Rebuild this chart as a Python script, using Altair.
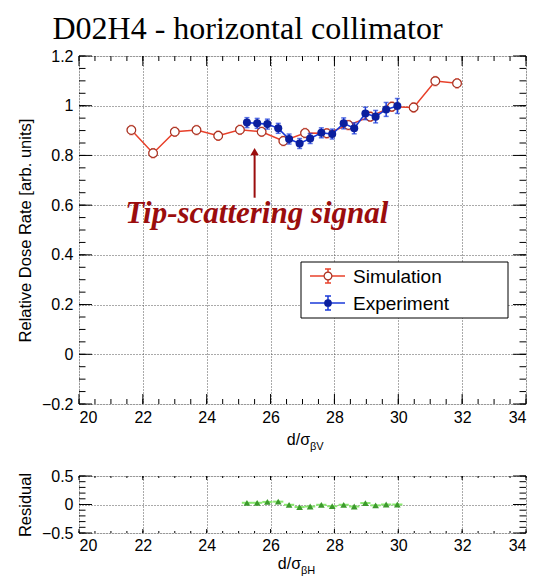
import altair as alt
import pandas as pd

# ---------------- data ----------------
sim_x = [21.64, 22.32, 23.00, 23.68, 24.36, 25.04, 25.72, 26.40, 27.08, 27.76, 28.44, 29.12, 29.80, 30.48, 31.16, 31.84]
sim_y = [0.902, 0.809, 0.895, 0.902, 0.879, 0.903, 0.895, 0.858, 0.890, 0.889, 0.922, 0.956, 0.996, 0.993, 1.099, 1.090]
sim_xerr = [0.12, 0.12, 0.12, 0.12, 0.12, 0.12, 0.12, 0.12, 0.12, 0.12, 0.12, 0.12, 0.12, 0.12, 0.12, 0.12]
sim_yerr = [0.018, 0.018, 0.018, 0.018, 0.018, 0.018, 0.018, 0.018, 0.018, 0.018, 0.018, 0.018, 0.018, 0.018, 0.018, 0.018]

exp_x = [25.26, 25.58, 25.90, 26.24, 26.58, 26.91, 27.24, 27.59, 27.93, 28.29, 28.62, 28.97, 29.29, 29.62, 29.97]
exp_y = [0.932, 0.929, 0.926, 0.909, 0.866, 0.848, 0.868, 0.891, 0.886, 0.929, 0.909, 0.969, 0.956, 0.985, 0.999]
exp_xerr = [0.05, 0.05, 0.05, 0.05, 0.05, 0.05, 0.05, 0.05, 0.05, 0.05, 0.05, 0.05, 0.05, 0.05, 0.05]
exp_yerr = [0.020, 0.020, 0.020, 0.020, 0.020, 0.020, 0.020, 0.020, 0.020, 0.022, 0.022, 0.025, 0.025, 0.028, 0.030]

res_x = exp_x
res_y = [0.030, 0.030, 0.045, 0.050, -0.005, -0.045, -0.035, -0.005, -0.030, -0.005, -0.035, 0.025, -0.015, 0.000, 0.000]
res_xerr = [0.16, 0.16, 0.16, 0.16, 0.16, 0.16, 0.16, 0.16, 0.16, 0.16, 0.16, 0.16, 0.16, 0.16, 0.16]
res_yerr = [0.02, 0.02, 0.02, 0.02, 0.02, 0.02, 0.02, 0.02, 0.02, 0.02, 0.02, 0.02, 0.02, 0.02, 0.02]

x_major = [20, 22, 24, 26, 28, 30, 32, 34]
x_minor = [20 + 0.5 * i for i in range(29)]
y_major = [-0.2, 0.0, 0.2, 0.4, 0.6, 0.8, 1.0, 1.2]
y_minor = [round(-0.2 + 0.05 * i, 3) for i in range(29)]
r_major = [-0.5, 0.0, 0.5]
r_minor = [round(-0.5 + 0.1 * i, 2) for i in range(11)]

title_text = "D02H4 - horizontal collimator"
annot_text = "Tip-scattering signal"
annot_x, annot_y = 25.57, 0.530
arrow_x, arrow_y0, arrow_y1 = 25.50, 0.630, 0.815

# ---------------- styling ----------------
W, H, H2 = 447, 348, 57
SANS = "Liberation Sans"
SERIF = "Liberation Serif"
RED = "#e8402a"
RED_DARK = "#a83222"
BLUE = "#1a3ad8"
BLUE_DARK = "#0b1f9e"
GREEN = "#3c9a2c"
GREEN_LIGHT = "#8ae870"
ANNOT = "#9b0d0d"

xs = alt.Scale(domain=[20, 34], nice=False, zero=False)
ys = alt.Scale(domain=[-0.2, 1.2], nice=False, zero=False)
rs = alt.Scale(domain=[-0.5, 0.5], nice=False, zero=False)


def make_axis(values, fmt, title, orient, label_pad, title_pad=8):
    kw = dict(values=values, format=fmt, orient=orient, grid=True, gridDash=[1, 2], gridColor="#555",
              gridWidth=1, ticks=False, domain=False, labelFont=SANS, labelFontSize=16,
              labelColor="black", labelPadding=label_pad)
    if title is None:
        kw["title"] = None
    else:
        kw.update(title=title, titleFont=SANS, titleFontSize=16.5, titleFontWeight="normal",
                  titleColor="black", titlePadding=title_pad)
    return alt.Axis(**kw)


AX_X_TOP = make_axis(x_major, "d", None, "bottom", 5)
AX_Y_TOP = make_axis(y_major, "~g", "Relative Dose Rate [arb. units]", "left", 6)
AX_X_BOT = make_axis(x_major, "d", None, "bottom", 4)
AX_Y_BOT = make_axis(r_major, "~g", "Residual", "left", 6)


def mk_enc(xaxis, yaxis, yscale):
    def X(f):
        return alt.X(f, type="quantitative", scale=xs, axis=xaxis)

    def Y(f):
        return alt.Y(f, type="quantitative", scale=yscale, axis=yaxis)
    return X, Y


def with_err(xv, yv, xe, ye):
    d = pd.DataFrame({"x": xv, "y": yv, "xe": xe, "ye": ye})
    d["xlo"] = d.x - d.xe
    d["xhi"] = d.x + d.xe
    d["ylo"] = d.y - d.ye
    d["yhi"] = d.y + d.ye
    return d


sim = with_err(sim_x, sim_y, sim_xerr, sim_yerr)
exp = with_err(exp_x, exp_y, exp_xerr, exp_yerr)
res = with_err(res_x, res_y, res_xerr, res_yerr)
one = pd.DataFrame({"a": [0]})


def ticks_layers(X, Y, h, xlen_major, xlen_minor, ylen_major, ylen_minor, ymajor, yminor):
    out = []
    for vals, L in ((x_major, xlen_major), (x_minor, xlen_minor)):
        d = pd.DataFrame({"x": vals})
        out.append(alt.Chart(d).mark_rule(color="black", strokeWidth=1).encode(
            x=X("x"), y=alt.value(h), y2=alt.value(h - L)))
        out.append(alt.Chart(d).mark_rule(color="black", strokeWidth=1).encode(
            x=X("x"), y=alt.value(0), y2=alt.value(L)))
    for vals, L in ((ymajor, ylen_major), (yminor, ylen_minor)):
        d = pd.DataFrame({"y": vals})
        out.append(alt.Chart(d).mark_rule(color="black", strokeWidth=1).encode(
            y=Y("y"), x=alt.value(0), x2=alt.value(L)))
        out.append(alt.Chart(d).mark_rule(color="black", strokeWidth=1).encode(
            y=Y("y"), x=alt.value(W), x2=alt.value(W - L)))
    return out


# ---------------- top panel ----------------
X, Y = mk_enc(AX_X_TOP, AX_Y_TOP, ys)

sim_line = alt.Chart(sim).mark_line(color=RED, strokeWidth=1.5).encode(x=X("x"), y=Y("y"))
sim_xe = alt.Chart(sim).mark_rule(color=RED, strokeWidth=1.2).encode(x=X("xlo"), x2="xhi", y=Y("y"))
sim_ye = alt.Chart(sim).mark_rule(color=RED, strokeWidth=1.2).encode(x=X("x"), y=Y("ylo"), y2="yhi")
sim_caps = [
    alt.Chart(sim).mark_tick(color=RED, orient="horizontal", size=4, thickness=1.5).encode(x=X("x"), y=Y("ylo")),
    alt.Chart(sim).mark_tick(color=RED, orient="horizontal", size=4, thickness=1.5).encode(x=X("x"), y=Y("yhi")),
    alt.Chart(sim).mark_tick(color=RED, orient="vertical", size=4, thickness=1.5).encode(x=X("xlo"), y=Y("y")),
    alt.Chart(sim).mark_tick(color=RED, orient="vertical", size=4, thickness=1.5).encode(x=X("xhi"), y=Y("y")),
]
sim_pts = alt.Chart(sim).mark_point(shape="circle", size=75, fill="white", fillOpacity=1,
                                    stroke=RED_DARK, strokeWidth=1.2, opacity=1).encode(x=X("x"), y=Y("y"))

exp_line = alt.Chart(exp).mark_line(color=BLUE, strokeWidth=1.6).encode(x=X("x"), y=Y("y"))
exp_xe = alt.Chart(exp).mark_rule(color=BLUE, strokeWidth=1.5).encode(x=X("xlo"), x2="xhi", y=Y("y"))
exp_ye = alt.Chart(exp).mark_rule(color=BLUE, strokeWidth=1.5).encode(x=X("x"), y=Y("ylo"), y2="yhi")
exp_caps = [
    alt.Chart(exp).mark_tick(color=BLUE, orient="horizontal", size=5, thickness=1.5).encode(x=X("x"), y=Y("ylo")),
    alt.Chart(exp).mark_tick(color=BLUE, orient="horizontal", size=5, thickness=1.5).encode(x=X("x"), y=Y("yhi")),
]
exp_pts = alt.Chart(exp).mark_point(shape="circle", size=65, filled=True, color=BLUE_DARK, opacity=1).encode(
    x=X("x"), y=Y("y"))

adf = pd.DataFrame({"x": [annot_x], "y": [annot_y], "t": [annot_text]})
annot = alt.Chart(adf).mark_text(font=SERIF, fontStyle="italic", fontWeight="bold", fontSize=31,
                                 color=ANNOT, align="center", baseline="alphabetic").encode(
    x=X("x"), y=Y("y"), text="t:N")
ardf = pd.DataFrame({"x": [arrow_x], "y0": [arrow_y0], "y1": [arrow_y1]})
arrow_shaft = alt.Chart(ardf).mark_rule(color=ANNOT, strokeWidth=2).encode(x=X("x"), y=Y("y0"), y2="y1")
arrow_head = alt.Chart(ardf).mark_point(shape="triangle-up", size=70, filled=True, color=ANNOT, opacity=1).encode(
    x=X("x"), y=Y("y1"))

# legend (drawn by hand inside the frame)
leg_box = alt.Chart(one).mark_rect(fill="white", stroke="black", strokeWidth=1).encode(
    x=alt.value(222), x2=alt.value(429), y=alt.value(206), y2=alt.value(262))
legend_layers = [leg_box]
for label, col, dark, yy, filled in (("Simulation", RED, RED_DARK, 220, False),
                                     ("Experiment", BLUE, BLUE_DARK, 247, True)):
    legend_layers.append(alt.Chart(one).mark_rule(color=col, strokeWidth=1.5).encode(
        x=alt.value(231), x2=alt.value(266), y=alt.value(yy)))
    legend_layers.append(alt.Chart(one).mark_rule(color=col, strokeWidth=1.5).encode(
        x=alt.value(249), y=alt.value(yy - 7), y2=alt.value(yy + 7)))
    for cy in (yy - 7, yy + 7):
        legend_layers.append(alt.Chart(one).mark_rule(color=col, strokeWidth=1.5).encode(
            x=alt.value(246), x2=alt.value(252), y=alt.value(cy)))
    if filled:
        legend_layers.append(alt.Chart(one).mark_point(shape="circle", size=60, filled=True, color=dark,
                                                       opacity=1).encode(x=alt.value(249), y=alt.value(yy)))
    else:
        legend_layers.append(alt.Chart(one).mark_point(shape="circle", size=60, fill="white", fillOpacity=1,
                                                       stroke=dark, strokeWidth=1.2, opacity=1).encode(
            x=alt.value(249), y=alt.value(yy)))
    legend_layers.append(alt.Chart(one).mark_text(font=SANS, fontSize=19, align="left", baseline="middle",
                                                  color="black").encode(
        x=alt.value(274), y=alt.value(yy + 1), text=alt.value(label)))

xt_main = alt.Chart(one).mark_text(font=SANS, fontSize=16, align="right", baseline="alphabetic",
                                   color="black").encode(x=alt.value(231), y=alt.value(389), text=alt.value("d/σ"))
xt_sub = alt.Chart(one).mark_text(font=SANS, fontSize=11, align="left", baseline="alphabetic",
                                  color="black").encode(x=alt.value(231), y=alt.value(394), text=alt.value("βV"))

top = alt.layer(
    sim_line, sim_xe, sim_ye, *sim_caps, sim_pts,
    exp_line, exp_xe, exp_ye, *exp_caps, exp_pts,
    annot, arrow_shaft, arrow_head,
    *legend_layers,
    *ticks_layers(X, Y, H, 10, 5, 13, 6.5, y_major, y_minor),
    xt_main, xt_sub,
).properties(
    width=W, height=H,
    title=alt.TitleParams(title_text, font=SERIF, fontSize=32, fontWeight="normal", color="black",
                          anchor="middle", dx=-55, offset=2),
)

# ---------------- residual panel ----------------
Xb, Yb = mk_enc(AX_X_BOT, AX_Y_BOT, rs)
res_xe = alt.Chart(res).mark_rule(color=GREEN_LIGHT, strokeWidth=2).encode(x=Xb("xlo"), x2="xhi", y=Yb("y"))
res_ye = alt.Chart(res).mark_rule(color=GREEN_LIGHT, strokeWidth=2).encode(x=Xb("x"), y=Yb("ylo"), y2="yhi")
res_pts = alt.Chart(res).mark_point(shape="triangle-up", size=45, filled=True, color=GREEN, opacity=1).encode(
    x=Xb("x"), y=Yb("y"))

bt_main = alt.Chart(one).mark_text(font=SANS, fontSize=16, align="right", baseline="alphabetic",
                                   color="black").encode(x=alt.value(222), y=alt.value(93), text=alt.value("d/σ"))
bt_sub = alt.Chart(one).mark_text(font=SANS, fontSize=11, align="left", baseline="alphabetic",
                                  color="black").encode(x=alt.value(222), y=alt.value(98), text=alt.value("βH"))

bottom = alt.layer(
    res_xe, res_ye, res_pts,
    *ticks_layers(Xb, Yb, H2, 4, 2, 13, 6.5, r_major, r_minor),
    bt_main, bt_sub,
).properties(width=W, height=H2)

chart = alt.vconcat(top, bottom, spacing=14).properties(
    padding={"left": 8, "top": 4, "right": 2, "bottom": 2}
).configure_view(stroke="#222", strokeWidth=1.2).configure(background="white")

chart.save("out.html", embed_options={"renderer": "svg", "actions": False})
